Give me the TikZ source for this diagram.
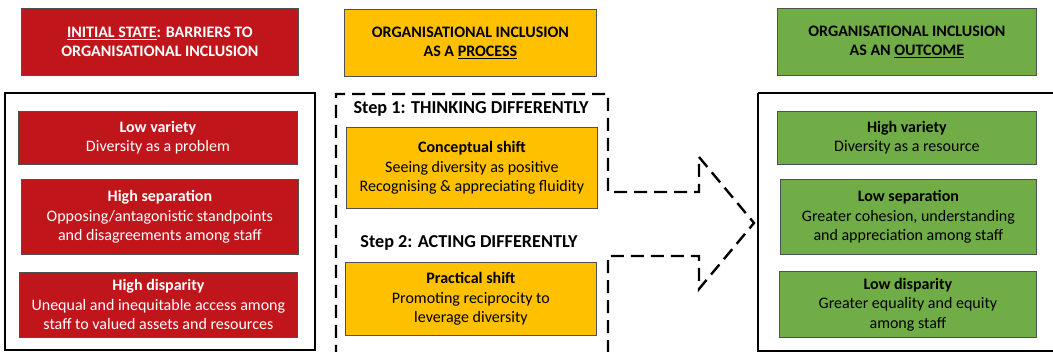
\documentclass[tikz,border=0pt]{standalone}
\usepackage{fontspec}
\setmainfont{Carlito}
\definecolor{barred}{HTML}{C0151A}
\definecolor{procgold}{HTML}{FFC000}
\definecolor{outgreen}{HTML}{70AD47}
\definecolor{edgegray}{HTML}{505050}
\begin{document}
\begin{tikzpicture}[x=1pt,y=-1pt,
  txt/.style={font=\fontsize{16}{19.5}\selectfont, align=center, inner sep=0pt},
  cbox/.style={txt, draw=edgegray, line width=0.8pt, anchor=north west},
  headbox/.style={cbox, font=\fontsize{16}{19.5}\selectfont\bfseries},
  redbox/.style={cbox, fill=barred, text=white},
  goldbox/.style={cbox, fill=procgold, text=black},
  greenbox/.style={cbox, fill=outgreen, text=black},
  frame/.style={draw=black, line width=2pt},
  dframe/.style={draw=black, line width=2.4pt, dash pattern=on 13pt off 7pt, line join=miter},
  steplabel/.style={txt, font=\fontsize{18.2}{19}\selectfont\bfseries}
]
\useasboundingbox (0,0) rectangle (1053,352);

% ---- column headers
\node[redbox, headbox, minimum width=277pt, minimum height=67pt] (hred) at (21,8)
  {\underline{INITIAL STATE}: BARRIERS TO\\ORGANISATIONAL INCLUSION};
\node[goldbox, headbox, minimum width=252pt, minimum height=67pt] (hgold) at (344,9)
  {ORGANISATIONAL INCLUSION\\AS A \underline{PROCESS}};
\node[greenbox, headbox, minimum width=259pt, minimum height=67pt] (hgreen) at (777,8)
  {ORGANISATIONAL INCLUSION\\AS AN \underline{OUTCOME}};

% ---- initial state
\draw[frame] (5,93) rectangle (315,350);
\node[redbox, minimum width=279pt, minimum height=53pt] (lowvar) at (18,111)
  {\textbf{Low variety}\\Diversity as a problem};
\node[redbox, minimum width=277pt, minimum height=75pt] (highsep) at (21,179)
  {\textbf{High separation}\\Opposing/antagonistic standpoints\\and disagreements among staff};
\node[redbox, minimum width=278pt, minimum height=65pt] (highdisp) at (19,272)
  {\textbf{High disparity}\\Unequal and inequitable access among\\staff to valued assets and resources};

% ---- process: dashed frame that turns into an arrow
\coordinate (pbl) at (336,358);
\coordinate (ptl) at (336,94);
\coordinate (ptr) at (608,94);
\coordinate (pa1) at (608,192);
\coordinate (pa2) at (699,192);
\coordinate (pa3) at (699,157);
\coordinate (tip) at (754,223);
\coordinate (pa4) at (699,289);
\coordinate (pa5) at (699,256);
\coordinate (pa6) at (608,256);
\coordinate (pbr) at (608,358);
\draw[dframe] (pbl) -- (ptl) -- (ptr) -- (pa1) -- (pa2) -- (pa3) -- (tip)
  -- (pa4) -- (pa5) -- (pa6) -- (pbr);

\node[steplabel] (step1) at (471,109) {Step 1: THINKING DIFFERENTLY};
\node[goldbox, minimum width=251pt, minimum height=81pt] (concept) at (346,127)
  {\textbf{Conceptual shift}\\Seeing diversity as positive\\Recognising \& appreciating fluidity};
\node[steplabel] (step2) at (469,243) {Step 2: ACTING DIFFERENTLY};
\node[goldbox, minimum width=251pt, minimum height=73pt] (practical) at (345,262)
  {\textbf{Practical shift}\\Promoting reciprocity to\\leverage diversity};

% ---- outcome
\draw[frame] (758,93) -- (1053,93) (758,93) -- (758,351) -- (1053,351);
\node[greenbox, minimum width=259pt, minimum height=53pt] (highvar) at (777,111)
  {\textbf{High variety}\\Diversity as a resource};
\node[greenbox, minimum width=256pt, minimum height=75pt] (lowsep) at (780,179)
  {\textbf{Low separation}\\Greater cohesion, understanding\\and appreciation among staff};
\node[greenbox, minimum width=257pt, minimum height=66pt] (lowdisp) at (779,271)
  {\textbf{Low disparity}\\Greater equality and equity\\among staff};
\end{tikzpicture}
\end{document}
